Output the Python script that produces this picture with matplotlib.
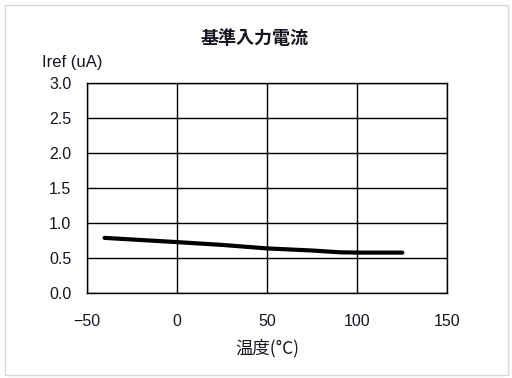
import matplotlib
matplotlib.use('Agg')
import matplotlib.pyplot as plt
from matplotlib.patches import Rectangle

# temperature (degC) vs reference input current (uA)
temps = [-40, -20, 0, 25, 50, 75, 90, 100, 125]
iref = [0.79, 0.76, 0.73, 0.69, 0.64, 0.61, 0.585, 0.58, 0.58]

x_ticks = [-50, 0, 50, 100, 150]
y_ticks = [0.0, 0.5, 1.0, 1.5, 2.0, 2.5, 3.0]

cjk = ['Noto Sans CJK JP', 'DejaVu Sans']
txt_color = '#15151f'

fig = plt.figure(figsize=(5.12, 3.78), dpi=100)
fig.patches.append(Rectangle((5 / 512, 1 - 375 / 378), 503 / 512, 370 / 378,
                             transform=fig.transFigure, fill=False,
                             edgecolor='#d8d8d8', linewidth=1))

ax = fig.add_axes([0.169, 0.224, 0.705, 0.557])
ax.plot(temps, iref, color='black', linewidth=3, solid_capstyle='round')

ax.set_xlim(-50, 150)
ax.set_ylim(0, 3)
ax.set_xticks(x_ticks)
ax.set_yticks(y_ticks)
ax.set_xticklabels(['\u221250', '0', '50', '100', '150'])
ax.set_yticklabels([f'{v:.1f}' for v in y_ticks])
ax.grid(True, color='black', linewidth=1)
ax.set_axisbelow(True)
for s in ax.spines.values():
    s.set_color('black')
    s.set_linewidth(1)
ax.tick_params(length=0, labelsize=11.5, labelcolor=txt_color)
ax.tick_params(axis='x', pad=15)
ax.tick_params(axis='y', pad=11)
for lab in ax.get_xticklabels() + ax.get_yticklabels():
    lab.set_family('Liberation Sans')
    lab.set_fontweight('medium')

fig.text(0.498, 1 - 38 / 378, '基準入力電流', ha='center', va='center',
         family=cjk, fontsize=13, fontweight='bold', color=txt_color)
fig.text(42 / 512, 1 - 62 / 378, 'Iref (uA)', ha='left', va='center',
         family='Liberation Sans', fontsize=12, color=txt_color)
fig.text(267 / 512, 1 - 348 / 378, '温度(°C)', ha='center', va='center',
         family=cjk, fontsize=12.5, color=txt_color)

fig.savefig('out.png', dpi=100)
